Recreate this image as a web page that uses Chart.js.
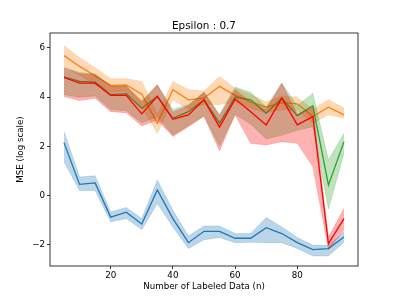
<!DOCTYPE html>
<html>
<head>
<meta charset="utf-8">
<script src="https://cdn.jsdelivr.net/npm/chart.js@4/dist/chart.umd.min.js"></script>
<style>
  body { margin: 0; background: #fff; }
  canvas { display: block; }
</style>
</head>
<body>
<canvas id="myChart" width="399" height="299"></canvas>
<script>
var xValues = [5, 10, 15, 20, 25, 30, 35, 40, 45, 50, 55, 60, 65, 70, 75, 80, 85, 90, 95];
var xTicks = [20, 40, 60, 80];
var yTicks = [-2, 0, 2, 4, 6];

var blueMean = [2.15, 0.45, 0.51, -0.88, -0.68, -1.16, 0.22, -0.94, -1.92, -1.46, -1.46, -1.74, -1.74, -1.31, -1.55, -1.92, -2.2, -2.16, -1.69];
var blueUpper = [2.6, 0.75, 0.8, -0.67, -0.49, -0.94, 0.63, -0.6, -1.65, -1.24, -1.24, -1.55, -1.55, -0.9, -1.28, -1.71, -2.03, -2.03, -1.48];
var blueLower = [1.37, 0.2, 0.2, -1.07, -0.94, -1.39, -0.33, -1.28, -2.16, -1.8, -1.71, -1.92, -1.9, -1.92, -1.92, -2.16, -2.46, -2.46, -1.9];

var orangeMean = [5.69, 5.25, 4.87, 4.48, 4.5, 4.12, 2.94, 4.3, 3.89, 3.96, 4.44, 4.07, 3.82, 3.59, 3.78, 3.73, 3.21, 3.59, 3.28];
var orangeUpper = [6.1, 5.6, 5.2, 4.75, 4.75, 4.64, 3.3, 4.64, 4.3, 4.25, 4.84, 4.35, 4.1, 3.8, 4.05, 4.0, 3.5, 3.9, 3.55];
var orangeLower = [5.25, 4.9, 4.5, 4.2, 4.25, 3.6, 2.53, 3.9, 3.5, 3.7, 3.7, 3.8, 3.55, 3.35, 3.5, 3.45, 2.95, 3.28, 3.15];

var greenMean = [4.82, 4.64, 4.61, 4.1, 4.14, 3.55, 4.03, 3.14, 3.41, 3.89, 2.94, 4.0, 3.89, 3.35, 3.96, 3.25, 3.65, 0.42, 2.19];
var greenUpper = [5.22, 5.0, 4.95, 4.45, 4.45, 3.85, 4.5, 3.5, 3.7, 4.2, 3.3, 4.41, 4.2, 3.6, 4.57, 3.65, 4.16, 1.44, 2.53];
var greenLower = [4.1, 4.0, 4.05, 3.5, 3.45, 2.95, 3.2, 2.45, 2.85, 3.25, 2.0, 3.3, 2.9, 2.3, 2.45, 2.65, 2.8, -0.55, 1.71];

var redMean = [4.8, 4.57, 4.57, 4.07, 4.07, 3.32, 4.03, 3.1, 3.28, 3.89, 2.78, 3.92, 3.41, 2.87, 3.96, 2.87, 3.21, -1.96, -0.94];
var redUpper = [5.18, 4.95, 4.9, 4.45, 4.45, 3.8, 4.5, 3.4, 3.65, 4.2, 3.25, 4.3, 3.8, 3.5, 4.57, 3.3, 3.6, -1.69, -0.53];
var redLower = [4.03, 3.86, 3.96, 3.41, 3.37, 2.83, 3.07, 2.4, 2.8, 3.21, 1.82, 3.28, 2.12, 2.05, 2.19, 2.12, 1.17, -2.2, -1.41];

var tickFont = { family: 'DejaVu Sans', size: 8.7 };

function pts(values) {
  return values.map(function (v, i) { return { x: xValues[i], y: v }; });
}

function band(upper, lower, rgb, order) {
  var fillColor = 'rgba(' + rgb + ',0.3)';
  return [
    { data: pts(lower), borderColor: fillColor, borderWidth: 0.6, pointRadius: 0, fill: false, order: order },
    { data: pts(upper), borderColor: fillColor, borderWidth: 0.6, pointRadius: 0, backgroundColor: fillColor, fill: '-1', order: order },
  ];
}

function line(values, color, order) {
  return { data: pts(values), borderColor: color, borderWidth: 1.3, pointRadius: 0, fill: false, order: order };
}

var datasets = []
  .concat(band(blueUpper, blueLower, '31,119,180', 20))
  .concat([line(blueMean, '#1f77b4', 19)])
  .concat(band(orangeUpper, orangeLower, '255,127,14', 18))
  .concat([line(orangeMean, '#ff7f0e', 17)])
  .concat(band(greenUpper, greenLower, '44,160,44', 16))
  .concat([line(greenMean, '#2ca02c', 15)])
  .concat(band(redUpper, redLower, '255,0,0', 14))
  .concat([line(redMean, '#ff0000', 13)]);

var frameAndTitle = {
  id: 'frameAndTitle',
  afterDraw: function (chart) {
    var ctx = chart.ctx;
    var a = chart.chartArea;
    ctx.save();
    ctx.strokeStyle = '#222';
    ctx.lineWidth = 0.9;
    ctx.strokeRect(a.left, a.top, a.right - a.left, a.bottom - a.top);
    ctx.fillStyle = '#000';
    ctx.font = '10.4px "DejaVu Sans"';
    ctx.textAlign = 'center';
    ctx.textBaseline = 'middle';
    ctx.fillText('Epsilon : 0.7', (a.left + a.right) / 2, 26.7);
    ctx.restore();
  },
};

new Chart('myChart', {
  type: 'line',
  data: { datasets: datasets },
  plugins: [frameAndTitle],
  options: {
    responsive: false,
    animation: false,
    layout: { padding: { top: 33, right: 41, left: 0, bottom: 0 } },
    plugins: { legend: { display: false }, tooltip: { enabled: false } },
    scales: {
      x: {
        type: 'linear',
        min: 0.5,
        max: 99.5,
        afterFit: function (s) { s.height = 33; },
        afterBuildTicks: function (s) { s.ticks = xTicks.map(function (v) { return { value: v }; }); },
        ticks: { font: tickFont, color: '#000', padding: 2, maxRotation: 0 },
        grid: { drawOnChartArea: false, drawTicks: true, tickLength: 3, color: '#000', lineWidth: 0.8 },
        border: { display: false },
        title: { display: true, text: 'Number of Labeled Data (n)', font: tickFont, color: '#000', padding: { top: 0, bottom: 7 } },
      },
      y: {
        min: -2.87,
        max: 6.61,
        afterFit: function (s) { s.width = 50; },
        afterBuildTicks: function (s) { s.ticks = yTicks.map(function (v) { return { value: v }; }); },
        ticks: {
          font: tickFont,
          color: '#000',
          padding: 2,
          callback: function (v) { return v < 0 ? '\u2212' + Math.abs(v) : String(v); },
        },
        grid: { drawOnChartArea: false, drawTicks: true, tickLength: 3, color: '#000', lineWidth: 0.8 },
        border: { display: false },
        title: { display: true, text: 'MSE (log scale)', font: tickFont, color: '#000', padding: { top: 15.5, bottom: 0 } },
      },
    },
  },
});
</script>
</body>
</html>
